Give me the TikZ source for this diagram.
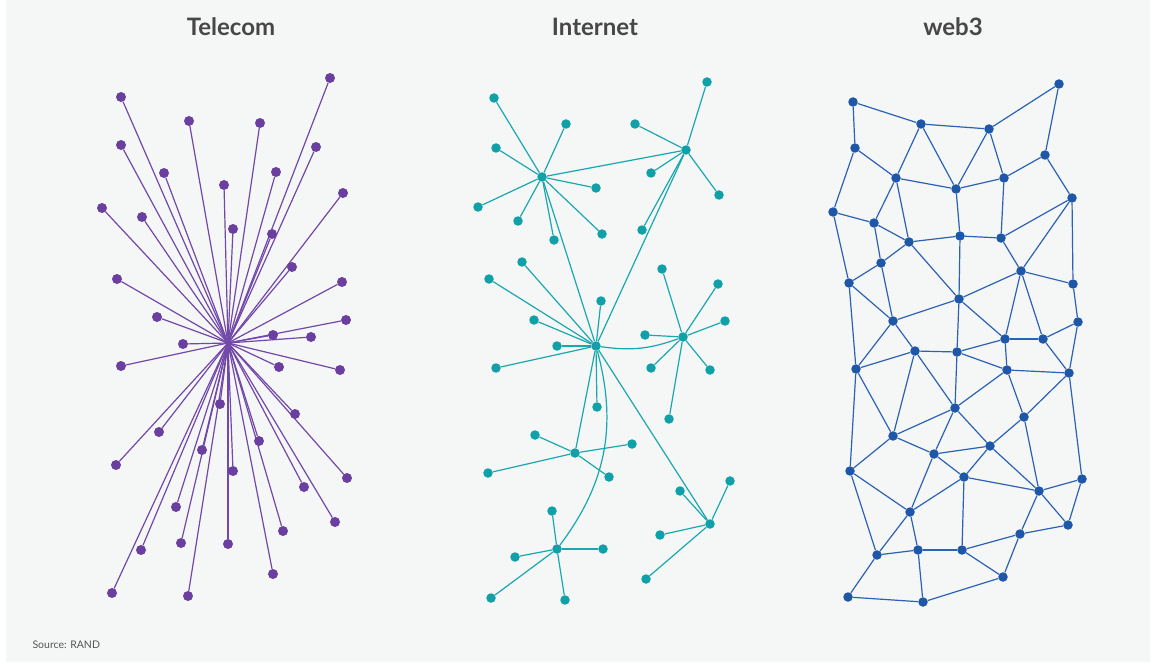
\documentclass[tikz,border=0pt]{standalone}
\usepackage{fontspec}
\setmainfont{Lato}
\pgfdeclarelayer{bg}
\pgfdeclarelayer{edges}
\pgfsetlayers{bg,edges,main}
\definecolor{pagebg}{HTML}{F5F6F6}
\definecolor{titlegray}{HTML}{474747}
\definecolor{srcgray}{HTML}{555555}
\definecolor{telc}{HTML}{6B3FA0}
\definecolor{telline}{HTML}{7248A8}
\definecolor{intc}{HTML}{0FA0A8}
\definecolor{intline}{HTML}{1AA8B0}
\definecolor{webc}{HTML}{1E56A8}
\definecolor{webline}{HTML}{2B62B4}
\begin{document}
\begin{tikzpicture}[x=1pt,y=-1pt,
  tdot/.style={circle,fill=telc,inner sep=0pt,minimum size=10pt},
  idot/.style={circle,fill=intc,inner sep=0pt,minimum size=9.5pt},
  wdot/.style={circle,fill=webc,inner sep=0pt,minimum size=9.5pt},
  tline/.style={draw=telline,line width=1.2pt},
  iline/.style={draw=intline,line width=1.2pt},
  wline/.style={draw=webline,line width=1.2pt},
  ttl/.style={font=\fontsize{24}{28}\selectfont\bfseries,text=titlegray,anchor=center},
  src/.style={font=\fontsize{10.5}{12}\selectfont,text=srcgray,anchor=west}]
\useasboundingbox (0,0) rectangle (1156,671);
\begin{pgfonlayer}{bg}
  \fill[white] (0,0) rectangle (1156,671);
  \fill[pagebg] (6,0) rectangle (1150,662);
\end{pgfonlayer}

% titles
\node[ttl] (title1) at (231,27) {Telecom};
\node[ttl] (title2) at (595,27) {Internet};
\node[ttl] (title3) at (953,27) {web3};
\node[src] (source) at (29,645) {Source: RAND};

% ---------------- Telecom ----------------
\coordinate (tc) at (228,343);
\foreach \x/\y [count=\i] in {330/78,121/97,189/121,260/123,121/145,316/147,164/173,276/172,224/185,343/193,102/208,142/217,233/229,272/234,292/267,117/279,342/282,157/317,346/320,273/335,311/337,183/344,121/366,279/367,340/370,220/404,295/414,159/432,259/441,202/450,116/465,233/471,347/478,304/487,176/507,335/522,283/531,181/543,228/544,141/550,273/574,112/593,188/596}
  \node[tdot] (t\i) at (\x,\y) {};
\begin{pgfonlayer}{edges}
\foreach \i in {1,...,43} \draw[tline] (tc) -- (t\i);
\end{pgfonlayer}

% ---------------- Internet ----------------
\foreach \n/\x/\y in {iA/542/177,iB/686/150,iC/596/346,iD/683/337,iE/575/453,iF/710/524,iG/557/549,
  a1/494/98,a2/566/124,a3/496/148,a4/596/188,a5/478/207,a6/518/221,a7/554/240,a8/602/234,
  b1/707/82,b2/635/124,b3/651/173,b4/719/195,b5/642/230,
  c1/522/262,c2/489/279,c3/601/301,c4/534/320,c5/557/346,c6/496/368,c7/597/407,
  d1/662/269,d2/718/284,d3/725/321,d4/645/335,d5/651/368,d6/710/370,d7/669/419,
  e1/535/435,e2/632/444,e3/488/473,e4/609/477,
  f1/730/481,f2/680/491,f3/660/535,f4/646/579,
  g1/552/511,g2/603/549,g3/515/557,g4/491/598,g5/565/600}
  \node[idot] (\n) at (\x,\y) {};
\begin{pgfonlayer}{edges}
\foreach \h/\l in {iA/a1,iA/a2,iA/a3,iA/a4,iA/a5,iA/a6,iA/a7,iA/a8,
  iB/b1,iB/b2,iB/b3,iB/b4,iB/b5,
  iC/c1,iC/c2,iC/c3,iC/c4,iC/c5,iC/c6,iC/c7,
  iD/d1,iD/d2,iD/d3,iD/d4,iD/d5,iD/d6,iD/d7,
  iE/e1,iE/e2,iE/e3,iE/e4,
  iF/f1,iF/f2,iF/f3,iF/f4,
  iG/g1,iG/g2,iG/g3,iG/g4,iG/g5,
  iA/iB,iA/iC,iB/iC,iC/iE,iC/iF}
  \draw[iline] (\h) -- (\l);
\draw[iline] (iC) to[bend right=14] (iD);
\draw[iline] (iC) to[bend left=26] (iG);
\end{pgfonlayer}

% ---------------- web3 ----------------
\foreach \n/\x/\y in {n1/853/102,n2/921/124,n3/855/148,n4/896/178,n5/956/189,n6/833/212,n7/874/223,n8/909/242,n9/960/236,n10/881/263,n11/849/283,n12/959/299,n13/893/321,
  m1/989/129,m2/1059/84,m3/1045/155,m4/1004/178,m5/1072/198,m6/1001/238,m7/1021/271,m8/1073/284,m9/1078/322,m10/1005/339,m11/1043/339,
  p1/915/351,p2/957/352,p3/856/369,p4/955/408,p5/893/436,p6/934/454,p7/850/471,p8/964/477,p9/910/512,p10/877/555,p11/918/550,p12/962/550,p13/848/597,p14/923/602,
  q1/1007/370,q2/1069/373,q3/1024/417,q4/990/446,q5/1082/479,q6/1039/491,q7/1068/525,q8/1020/534,q9/1003/577}
  \node[wdot] (\n) at (\x,\y) {};
\begin{pgfonlayer}{edges}
\foreach \a/\b in {n1/n2,n1/n3,n2/m1,n2/n4,n2/n5,n3/n4,n3/n6,n4/n5,n4/n7,n4/n8,n5/n9,n5/m4,n5/m1,n6/n7,n6/n11,n7/n8,n7/n10,n8/n9,n8/n10,n8/n12,n9/n12,n9/m6,n10/n11,n10/n13,n11/n13,n11/p3,n12/n13,n12/p2,n12/m7,n12/m10,n13/p1,n13/p3,
  m1/m2,m1/m4,m2/m3,m3/m4,m3/m5,m4/m6,m5/m6,m5/m7,m5/m8,m6/m7,m7/m8,m7/m10,m7/m11,m8/m9,m9/m11,m9/q2,m10/m11,m10/p2,m10/q1,m11/q2,
  p1/p2,p1/p3,p1/p5,p1/p4,p2/p4,p2/q1,p3/p5,p3/p7,p4/p5,p4/p6,p4/q1,p4/q4,p5/p6,p5/p7,p6/p8,p6/p9,p6/q4,p7/p9,p7/p10,p8/p9,p8/p12,p8/q4,p8/q6,p9/p10,p9/p11,p10/p11,p10/p13,p11/p12,p11/p14,p13/p14,p14/q9,
  q1/q2,q1/q3,q2/q3,q2/q5,q3/q4,q3/q6,q4/q6,q5/q6,q5/q7,q6/q7,q6/q8,q7/q8,q8/p12,q8/q9,p12/q9}
  \draw[wline] (\a) -- (\b);
\end{pgfonlayer}
\end{tikzpicture}
\end{document}
